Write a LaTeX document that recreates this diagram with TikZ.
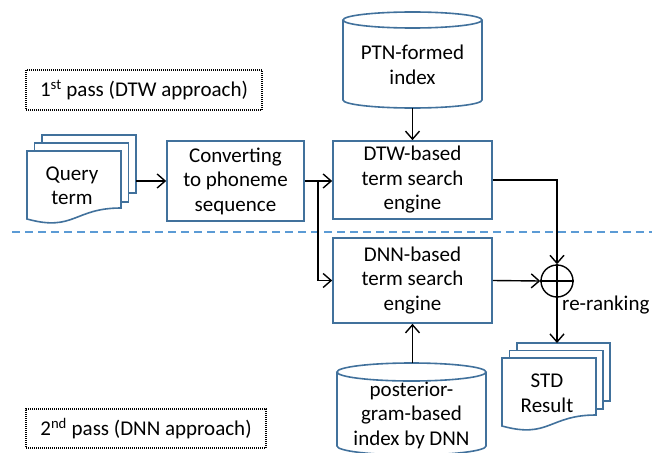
\documentclass[tikz,border=0pt]{standalone}
\usepackage{fontspec}
\setmainfont{Carlito}
\usetikzlibrary{arrows.meta}

\definecolor{boxblue}{RGB}{65,113,156}
\definecolor{lineblue}{RGB}{91,155,213}

% A page of a document stack: left, top, right, bottom (straight bottom)
\newcommand\backpage[4]{%
  \draw[pagestyle] (#1,#2) rectangle (#3,#4);}
% Front page with the wavy lower edge
\newcommand\frontpage[3]{%
  \draw[pagestyle] (#1,#2) -- (#3,#2) -- (#3,#2+57)
    .. controls ({(#1+#3)/2},#2+57) and ({(#1+#3)/2},#2+81) .. (#1,#2+68) -- cycle;}

\begin{document}
\begin{tikzpicture}[x=1pt,y=-1pt,
  every node/.style={font=\fontsize{21}{24.5}\selectfont, align=center},
  box/.style={draw=boxblue, line width=1.6pt, fill=white, inner sep=0pt},
  pagestyle/.style={draw=boxblue, line width=1.6pt, fill=white},
  cyl/.style={draw=boxblue, line width=1.6pt, fill=white},
  passlabel/.style={draw=black, line width=1.1pt, dash pattern=on 1pt off 1pt, inner sep=0pt},
  arr/.style={line width=1.4pt, -{Straight Barb[length=8pt,width=14pt,line width=1.4pt]}},
  conn/.style={line width=1.4pt}]
\useasboundingbox (0,0) rectangle (652,452);
\clip (0,0) rectangle (652,452);

% separator between the two passes
\draw[lineblue, line width=1.5pt, dash pattern=on 8pt off 5pt] (12,232) -- (652,232);

% pass labels
\node[passlabel, minimum width=236pt, minimum height=40pt] (pass1) at (144,90)
  {1\textsuperscript{st} pass (DTW approach)};
\node[passlabel, minimum width=240pt, minimum height=39pt] (pass2) at (146,428.5)
  {2\textsuperscript{nd} pass (DNN approach)};

% query term document stack
\backpage{42}{135}{136}{193}
\backpage{34.5}{143}{128.5}{202}
\frontpage{27}{151}{121}
\node (query) at (72,186) {Query\\term};
\coordinate (qout) at (136,181);

% processing boxes
\node[box, minimum width=137pt, minimum height=80pt] (conv) at (235.5,181)
  {Converting\\to phoneme\\sequence};
\node[box, minimum width=159pt, minimum height=78pt] (dtw) at (412.5,180)
  {DTW-based\\term search\\engine};
\node[box, minimum width=159pt, minimum height=85pt] (dnn) at (412.5,280.5)
  {DNN-based\\term search\\engine};

% PTN-formed index cylinder
\draw[cyl] (343,20) -- (343,100)
  arc[start angle=180, end angle=0, x radius=69.5, y radius=8] -- (482,20);
\draw[cyl] (412.5,20) ellipse[x radius=69.5, y radius=8];
\node (ptn) at (412.5,65) {PTN-formed\\index};
\coordinate (ptnb) at (412.5,108);

% posteriorgram-based index cylinder
\draw[cyl] (337,372) -- (337,446)
  arc[start angle=180, end angle=0, x radius=74.5, y radius=9] -- (486,372);
\draw[cyl] (411.5,372) ellipse[x radius=74.5, y radius=9];
\node (post) at (411.5,415) {posterior-\\gram-based\\index by DNN};
\coordinate (postt) at (412.5,363);

% summing junction
\node[draw=black, line width=1.4pt, circle, minimum size=32pt, inner sep=0pt] (sum) at (557,281) {};
\draw[conn] (sum.north) -- (sum.south);
\draw[conn] (sum.west) -- (sum.east);
\node[anchor=west, inner sep=0pt] (rerank) at (562,305) {re-ranking};

% STD result document stack
\backpage{517}{343}{610}{401}
\backpage{509.5}{350.5}{603}{409}
\frontpage{502}{358}{596}
\node (std) at (547,393.5) {STD\\Result};
\coordinate (stdin) at (557,343);

% connectors
\coordinate (split) at (318,181);
\draw[arr] (qout) -- (conv.west);
\draw[arr] (conv.east) -- (conv.east -| dtw.west);
\draw[arr] (split) |- (dnn.west);
\draw[arr] (ptnb) -- (dtw.north);
\draw[arr] (postt) -- (dnn.south);
\draw[arr] (dtw.east) -| (sum.north);
\draw[arr] (dnn.east) -- (sum.west);
\draw[arr] (sum.south) -- (stdin);
\end{tikzpicture}
\end{document}
